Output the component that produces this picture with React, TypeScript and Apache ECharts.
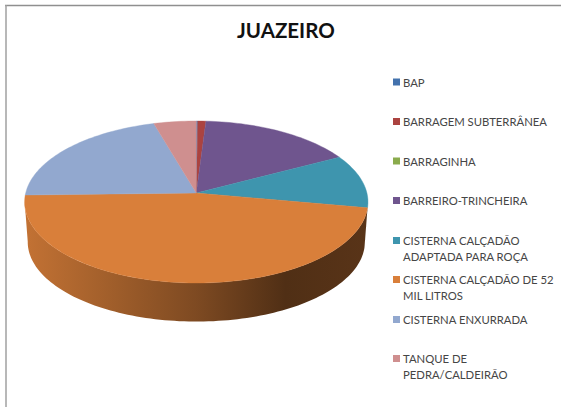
import React, { useEffect, useRef } from "react";
import * as echarts from "echarts";

const categories = [
  "BAP",
  "BARRAGEM SUBTERRÂNEA",
  "BARRAGINHA",
  "BARREIRO-TRINCHEIRA",
  "CISTERNA CALÇADÃO\nADAPTADA PARA ROÇA",
  "CISTERNA CALÇADÃO DE 52\nMIL LITROS",
  "CISTERNA ENXURRADA",
  "TANQUE DE\nPEDRA/CALDEIRÃO",
];
const values = [0.15, 0.85, 0, 16.2, 10.7, 46.7, 20.95, 4.45];
const colors = ["#4372AD", "#AB4340", "#8AAB4C", "#6F558E", "#3E95AE", "#D97F3A", "#92A8CF", "#CF8F8F"];
const legendFirstLineY = [82, 121.5, 161, 200.5, 240.5, 279.5, 319.5, 358.5];

const CX = 196.3, APEX_Y = 193, EL_Y = 202;
const PC = 170.6, PB = 80, PA = 1 / 9;
const DEPTH = 40, LOWER_SCALE = 0.982;
const FRONT_FROM = 96, FRONT_TO = 264;
const total = values.reduce((a, b) => a + b, 0);

function rim(deg: number) {
  const t = (deg * Math.PI) / 180;
  const u = Math.sin(t), v = -Math.cos(t), w = 1 - PA * v;
  return [CX + (PC * u) / w, APEX_Y + (PB * v) / w];
}
function lower(deg: number) {
  const p = rim(deg);
  return [CX + (p[0] - CX) * LOWER_SCALE, EL_Y + (p[1] - EL_Y) * LOWER_SCALE + DEPTH];
}
function arc(from: number, to: number, fn: (d: number) => number[]) {
  const n = Math.max(2, Math.ceil((to - from) / 1.5));
  const pts: number[][] = [];
  for (let i = 0; i <= n; i++) pts.push(fn(from + ((to - from) * i) / n));
  return pts;
}
function shade(hex: string, f: number) {
  const n = parseInt(hex.slice(1), 16);
  const c = [(n >> 16) & 255, (n >> 8) & 255, n & 255].map((x) => Math.round(x * f));
  return `rgb(${c.join(",")})`;
}
function wallFill(color: string) {
  const stops: number[][] = [[0, 0.9], [0.22, 0.76], [0.5, 0.58], [0.76, 0.37], [1, 0.41]];
  return {
    type: "linear", global: true, x: 24, y: 0, x2: 368, y2: 0,
    colorStops: stops.map(([offset, f]) => ({ offset, color: shade(color, f) })),
  };
}

const ICON_ONE = "path://M0 0H7V7H0Z";
const ICON_TWO = "path://M0 4.5H7V11.5H0Z M0 0L0.01 0 M0 32L0.01 32";

export default function App() {
  const ref = useRef<HTMLDivElement>(null);
  useEffect(() => {
    const chart = echarts.init(ref.current!, null, { renderer: "svg" });
    let acc = 0;
    const series = categories.map((name, i) => {
      const start = (acc / total) * 360;
      acc += values[i];
      const end = (acc / total) * 360;
      return {
        type: "custom",
        name,
        coordinateSystem: "none",
        itemStyle: { color: colors[i] },
        silent: true,
        z: 2,
        data: [[start, end]],
        renderItem: (_p: any, api: any) => {
          const a = api.value(0), b = api.value(1);
          const children: any[] = [];
          if (b <= a) return { type: "group", children };
          const fa = Math.max(a, FRONT_FROM), fb = Math.min(b, FRONT_TO);
          if (fb > fa) {
            const pts = [...arc(fa, fb, rim), ...arc(fa, fb, lower).reverse()];
            children.push({
              type: "polygon",
              z2: 1,
              shape: { points: pts },
              style: { fill: wallFill(colors[i]) },
            });
          }
          children.push({
            type: "polygon",
            z2: 2,
            shape: { points: [[CX, APEX_Y], ...arc(a, b, rim)] },
            style: { fill: colors[i], stroke: colors[i], lineWidth: 0.4 },
          });
          return { type: "group", children };
        },
      };
    });
    const legend = categories.map((name, i) => {
      const two = name.includes("\n");
      return {
        data: [name],
        orient: "vertical",
        left: 393,
        top: legendFirstLineY[i] - 8,
        padding: 0,
        selectedMode: false,
        icon: two ? ICON_TWO : ICON_ONE,
        itemWidth: 7,
        itemHeight: two ? 32 : 7,
        textStyle: {
          fontFamily: "Lato",
          fontSize: 11.3,
          lineHeight: 16,
          color: "#454545",
          padding: [0, 0, 0, -2],
        },
      };
    });
    chart.setOption({
      animation: false,
      backgroundColor: "#ffffff",
      title: {
        text: "JUAZEIRO",
        left: 237,
        top: 19,
        padding: 0,
        textStyle: { fontFamily: "Lato", fontSize: 20.5, fontWeight: "bold", color: "#111111" },
      },
      legend,
      series,
      graphic: [
        { type: "line", silent: true, shape: { x1: 5, y1: 5.5, x2: 561, y2: 5.5 }, style: { stroke: "#8f8f8f", lineWidth: 1.5 } },
        { type: "line", silent: true, shape: { x1: 6, y1: 5, x2: 6, y2: 407 }, style: { stroke: "#a0a0a0", lineWidth: 1.5 } },
      ],
    });
    return () => chart.dispose();
  }, []);
  return <div ref={ref} style={{ position: "fixed", left: 0, top: 0, width: 561, height: 407 }} />;
}
